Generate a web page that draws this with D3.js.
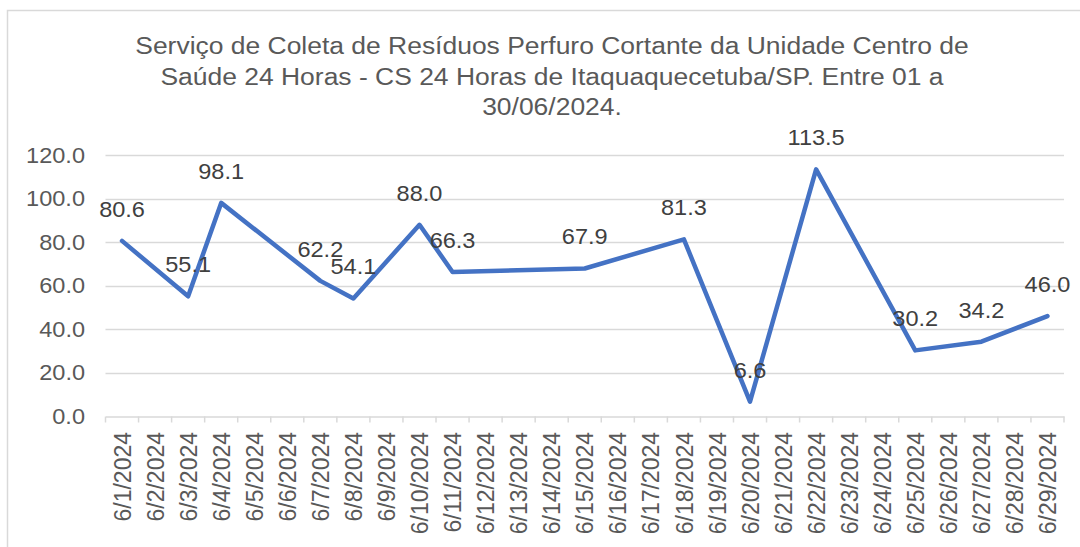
<!DOCTYPE html>
<html>
<head>
<meta charset="utf-8">
<script src="https://cdn.jsdelivr.net/npm/d3@7"></script>
<style>
  body { margin: 0; background: #fff; }
  text { font-family: "Liberation Sans", Arial, sans-serif; }
</style>
</head>
<body>
<svg id="chart" width="1080" height="547"></svg>
<script>
// all dates on the category axis
const categories = d3.range(1, 30).map(d => `6/${d}/2024`);

// days that have a value, and the values
const seriesDates = ["6/1/2024", "6/3/2024", "6/4/2024", "6/7/2024", "6/8/2024", "6/10/2024", "6/11/2024",
  "6/15/2024", "6/18/2024", "6/20/2024", "6/22/2024", "6/25/2024", "6/27/2024", "6/29/2024"];
const seriesValues = [80.6, 55.1, 98.1, 62.2, 54.1, 88.0, 66.3, 67.9, 81.3, 6.6, 113.5, 30.2, 34.2, 46.0];

const yTicks = [0, 20, 40, 60, 80, 100, 120];

const titleLines = [
  "Serviço de Coleta de Resíduos Perfuro Cortante da Unidade Centro de",
  "Saúde 24 Horas - CS 24 Horas de Itaquaquecetuba/SP. Entre 01 a",
  "30/06/2024."
];

// the picture is a bit wider than tall, text looks stretched sideways
const sx = 1.07;

const svg = d3.select("#chart");

// chart area border (runs off the right/bottom of the picture)
svg.append("rect")
  .attr("x", 7.5).attr("y", 10.5)
  .attr("width", 1100).attr("height", 560)
  .attr("fill", "none")
  .attr("stroke", "#d9d9d9")
  .attr("stroke-width", 1.5);

const x = d3.scaleBand().domain(categories).range([105.5, 1064]).padding(0);
const y = d3.scaleLinear().domain([0, 120]).range([416, 155.3]);

// title
svg.append("g")
  .selectAll("text")
  .data(titleLines)
  .join("text")
  .attr("transform", (d, i) => `translate(552,${54 + i * 30.5}) scale(1.08,1)`)
  .attr("text-anchor", "middle")
  .attr("font-size", "24.5px")
  .attr("fill", "#595959")
  .text(d => d);

// gridlines
svg.append("g")
  .selectAll("line")
  .data(yTicks.filter(d => d > 0))
  .join("line")
  .attr("x1", 105.5).attr("x2", 1064)
  .attr("y1", d => Math.round(y(d)) + 0.5)
  .attr("y2", d => Math.round(y(d)) + 0.5)
  .attr("stroke", "#d9d9d9")
  .attr("stroke-width", 1.5);

// y axis labels
svg.append("g")
  .selectAll("text")
  .data(yTicks)
  .join("text")
  .attr("transform", d => `translate(85,${y(d)}) scale(${sx},1)`)
  .attr("dy", "0.35em")
  .attr("text-anchor", "end")
  .attr("font-size", "22px")
  .attr("fill", "#595959")
  .text(d => d.toFixed(1));

// x axis
const xAxis = d3.axisBottom(x).tickSize(0).tickFormat("");
const gx = svg.append("g")
  .attr("transform", `translate(0,${Math.round(y(0)) + 0.5})`)
  .call(xAxis);
gx.select(".domain").attr("stroke", "#d9d9d9").attr("stroke-width", 1.5);

// tick marks at category boundaries
gx.append("g")
  .selectAll("line")
  .data(categories.concat(["end"]))
  .join("line")
  .attr("x1", (d, i) => i < categories.length ? x(d) : x.range()[1])
  .attr("x2", (d, i) => i < categories.length ? x(d) : x.range()[1])
  .attr("y1", 0).attr("y2", 6)
  .attr("stroke", "#d9d9d9")
  .attr("stroke-width", 1.5);

// rotated date labels
svg.append("g")
  .selectAll("text")
  .data(categories)
  .join("text")
  .attr("transform", d => `translate(${x(d) + x.bandwidth() / 2},432) scale(${sx},1) rotate(-90)`)
  .attr("dy", "0.35em")
  .attr("text-anchor", "end")
  .attr("font-size", "23px")
  .attr("fill", "#595959")
  .text(d => d);

// line series
const points = seriesDates.map((d, i) => ({ date: d, value: seriesValues[i] }));

const line = d3.line()
  .x(d => x(d.date) + x.bandwidth() / 2)
  .y(d => y(d.value));

svg.append("path")
  .datum(points)
  .attr("d", line)
  .attr("fill", "none")
  .attr("stroke", "#4472c4")
  .attr("stroke-width", 4.5)
  .attr("stroke-linejoin", "round")
  .attr("stroke-linecap", "round");

// data labels
svg.append("g")
  .selectAll("text")
  .data(points)
  .join("text")
  .attr("transform", d => `translate(${x(d.date) + x.bandwidth() / 2},${y(d.value) - 24}) scale(${sx},1)`)
  .attr("text-anchor", "middle")
  .attr("font-size", "22px")
  .attr("fill", "#404040")
  .text(d => d.value.toFixed(1));
</script>
</body>
</html>
